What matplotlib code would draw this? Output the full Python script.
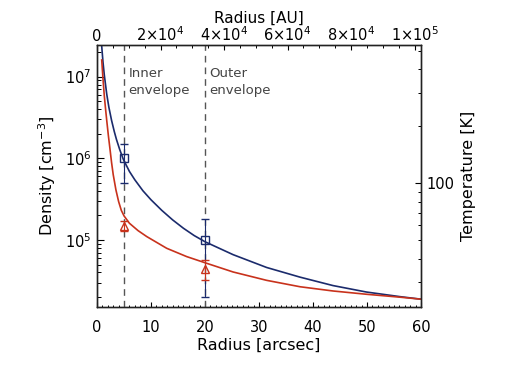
# density profile of the envelope, two model curves plus observed points
import numpy as np
import matplotlib
matplotlib.use('Agg')
import matplotlib.pyplot as plt
from matplotlib.ticker import MultipleLocator, FuncFormatter, NullFormatter

# model curves (radius in arcsec, density in cm^-3)
r_blue = [0.7, 0.87, 1.1, 1.35, 1.8, 2.2, 2.7, 3.2, 3.6, 4.2, 4.9, 6.0, 7.0,
          8.5, 10.0, 12.0, 14.0, 16.0, 18.0, 20.0, 25.2, 31.4, 37.6, 43.7,
          49.9, 56.1, 60.0]
n_blue = [3.6e7, 2.35e7, 1.52e7, 1.045e7, 6.1e6, 4.2e6, 2.9e6, 2.12e6, 1.7e6,
          1.28e6, 9.6e5, 6.9e5, 5.45e5, 4.0e5, 3.1e5, 2.3e5, 1.76e5, 1.39e5,
          1.13e5, 9.5e4, 6.6e4, 4.6e4, 3.5e4, 2.76e4, 2.3e4, 2.02e4, 1.88e4]

r_red = [0.87, 1.1, 1.35, 1.6, 1.8, 2.1, 2.4, 2.7, 3.0, 3.5, 4.0, 4.5, 5.0, 5.3,
         6.0, 7.6, 9.2, 12.9, 16.6, 20.2, 25.2, 31.4, 37.6, 43.7, 49.9, 56.1, 60.0]
n_red = [1.6e7, 9.5e6, 5.8e6, 3.9e6, 2.9e6, 1.9e6, 1.3e6, 8.8e5, 6.3e5, 4.1e5,
         2.95e5, 2.3e5, 1.97e5, 1.85e5, 1.6e5, 1.3e5, 1.1e5, 7.9e4, 6.25e4, 5.2e4,
         4.05e4, 3.2e4, 2.67e4, 2.37e4, 2.16e4, 1.99e4, 1.88e4]

# observed points
obs_r = [5, 20]
sq_n = [1.0e6, 1.0e5]
sq_err = [5e5, 8e4]
tri_n = [1.5e5, 4.4e4]
tri_err = [2e4, 1.2e4]

env_r = [5, 20]
env_names = ['Inner\nenvelope', 'Outer\nenvelope']

au_per_arcsec = 1700.0

blue = '#1b2b6c'
red = '#c8321c'
grey = '#555555'

fig = plt.figure(figsize=(5.18, 3.70), dpi=100)
ax = fig.add_axes([0.1873, 0.171, 0.6255, 0.7074])

ax.set_yscale('log')
ax.set_xlim(0, 60)
ax.set_ylim(1.52e4, 2.44e7)

for r in env_r:
    ax.axvline(r, color=grey, lw=1.0, dashes=(4.8, 3.6))
for r, name in zip(env_r, env_names):
    ax.text(r + 0.85, 1.33e7, name, ha='left', va='top', fontsize=9.5,
            color='#444444', linespacing=1.45)

ax.plot(r_blue, n_blue, color=blue, lw=1.2)
ax.plot(r_red, n_red, color=red, lw=1.2)

ax.errorbar(obs_r, sq_n, yerr=sq_err, fmt='s', mfc='none', mec=blue, mew=1.0,
            ms=6, ecolor=blue, elinewidth=0.8, capsize=3, capthick=0.8)
ax.errorbar(obs_r, tri_n, yerr=tri_err, fmt='^', mfc='none', mec=red, mew=1.0,
            ms=6, ecolor=red, elinewidth=0.8, capsize=3, capthick=0.8)

ax.xaxis.set_major_locator(MultipleLocator(10))
ax.xaxis.set_minor_locator(MultipleLocator(1))
ax.tick_params(axis='x', which='both', direction='in', top=False)
ax.tick_params(axis='x', which='major', length=3.6, width=0.8, pad=9.5, labelsize=10.5)
ax.tick_params(axis='x', which='minor', length=1.8, width=0.7)
ax.tick_params(axis='y', which='both', direction='in', right=False)
ax.tick_params(axis='y', which='major', length=5, width=0.8, pad=4, labelsize=10.5)
ax.tick_params(axis='y', which='minor', length=2.6, width=0.7)

ax.set_xlabel('Radius [arcsec]', fontsize=11.5, va='center')
ax.xaxis.set_label_coords(0.5, -0.146)
ax.set_ylabel('Density [cm$^{-3}$]', fontsize=11.5, va='center')
ax.yaxis.set_label_coords(-0.154, 0.5)

# top axis in AU
ax_au = ax.twiny()
ax_au.set_xlim(0, 60 * au_per_arcsec)
ax_au.xaxis.set_major_locator(MultipleLocator(20000))
ax_au.xaxis.set_minor_locator(MultipleLocator(5000))


def au_fmt(v, pos):
    if abs(v) < 1:
        return '0'
    if v < 0:
        return ''
    e = int(np.floor(np.log10(v) + 1e-9))
    m = v / 10 ** e
    return '%d$\\times$10$^{%d}$' % (round(m), e)


ax_au.xaxis.set_major_formatter(FuncFormatter(au_fmt))
ax_au.tick_params(axis='x', which='both', direction='in')
ax_au.tick_params(axis='x', which='major', length=3.6, width=0.8, pad=1, labelsize=10.5)
ax_au.tick_params(axis='x', which='minor', length=1.8, width=0.7)
ax_au.set_xlabel('Radius [AU]', fontsize=11, va='center')
ax_au.xaxis.set_label_coords(0.5, 1.103)

# right axis temperature
ax_t = ax.twinx()
ax_t.set_yscale('log')
ax_t.set_ylim(22.3, 537)
ax_t.set_yticks([100])
ax_t.set_yticklabels(['100'])
ax_t.set_yticks([30, 40, 50, 60, 70, 80, 90, 200, 300, 400, 500], minor=True)
ax_t.yaxis.set_minor_formatter(NullFormatter())
ax_t.tick_params(axis='y', which='both', direction='in')
ax_t.tick_params(axis='y', which='major', length=4, width=0.8, pad=4, labelsize=10.5)
ax_t.tick_params(axis='y', which='minor', length=2.4, width=0.7)
ax_t.set_ylabel('Temperature [K]', fontsize=11.5, va='center')
ax_t.yaxis.set_label_coords(1.145, 0.5)

for a in (ax, ax_au, ax_t):
    for s in a.spines.values():
        s.set_linewidth(0.9)
        s.set_color('#222222')

fig.savefig('out.png', dpi=100)
